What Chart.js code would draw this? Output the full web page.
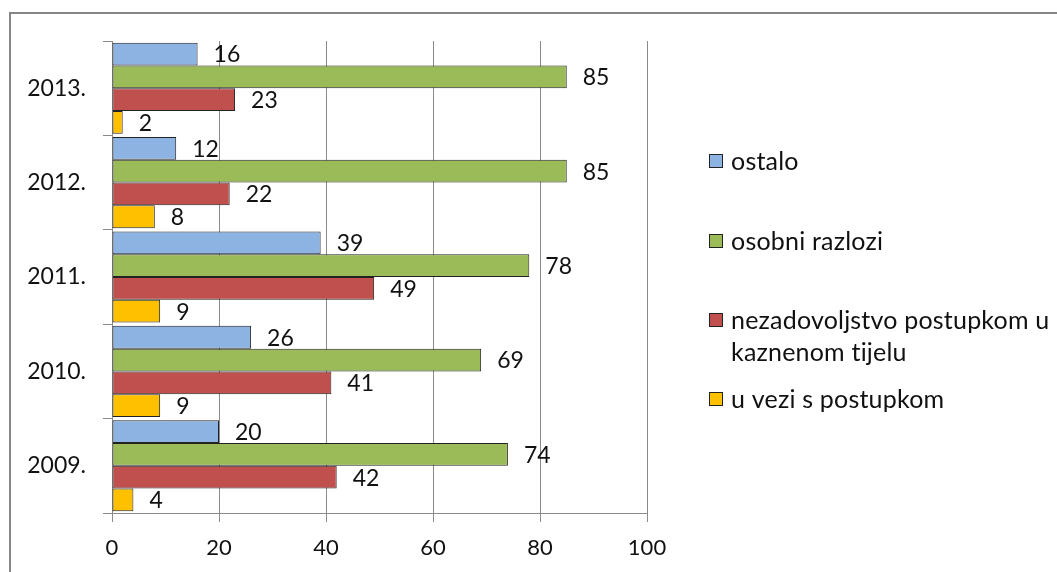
<!DOCTYPE html>
<html>
<head>
<meta charset="utf-8">
<script src="https://cdn.jsdelivr.net/npm/chart.js@4/dist/chart.umd.min.js"></script>
<style>
  html, body { margin: 0; padding: 0; background: #fff; }
  #wrap { width: 1057px; height: 572px; position: relative; }
</style>
</head>
<body>
<div id="wrap"><canvas id="c" width="1057" height="572"></canvas></div>
<script>
const years = ["2013.", "2012.", "2011.", "2010.", "2009."];
const seriesNames = ["ostalo", "osobni razlozi", "nezadovoljstvo postupkom u kaznenom tijelu", "u vezi s postupkom"];
const ostalo = [16, 12, 39, 26, 20];
const osobniRazlozi = [85, 85, 78, 69, 74];
const nezadovoljstvo = [23, 22, 49, 41, 42];
const uVezi = [2, 8, 9, 9, 4];
const xTicks = [0, 20, 40, 60, 80, 100];

const colors = ["#8DB3E2", "#9BBB59", "#C0504D", "#FFC000"];
const FONT = "Lato, 'Noto Sans', sans-serif";
const GRID = "#8a8a8a";
const TEXT = "#111";

const valueLabels = {
  id: "valueLabels",
  afterDatasetsDraw(chart) {
    const ctx = chart.ctx;
    ctx.save();
    ctx.font = "23px " + FONT;
    ctx.fillStyle = TEXT;
    ctx.textAlign = "left";
    ctx.textBaseline = "middle";
    chart.data.datasets.forEach((ds, i) => {
      const meta = chart.getDatasetMeta(i);
      meta.data.forEach((el, j) => {
        ctx.fillText(String(ds.data[j]), el.x + 16, el.y + 1);
      });
    });
    ctx.restore();
  }
};

const frameAndLegend = {
  id: "frameAndLegend",
  afterDraw(chart, args, opts) {
    const ctx = chart.ctx;
    ctx.save();
    // outer frame
    ctx.strokeStyle = "#868686";
    ctx.lineWidth = 2;
    ctx.strokeRect(10, 13, 1200, 700);
    // legend
    ctx.font = "25px " + FONT;
    if ("letterSpacing" in ctx) ctx.letterSpacing = "0.2px";
    ctx.textAlign = "left";
    ctx.textBaseline = "middle";
    const maxW = 322;
    chart.data.datasets.forEach((ds, i) => {
      const cy = opts.rows[i];
      ctx.fillStyle = ds.backgroundColor;
      ctx.fillRect(709.5, cy - 6.5, 13, 13);
      ctx.strokeStyle = "#222";
      ctx.lineWidth = 1;
      ctx.strokeRect(709.5, cy - 6.5, 13, 13);
      ctx.fillStyle = TEXT;
      const words = ds.label.split(" ");
      const lines = [];
      let cur = "";
      words.forEach(w => {
        const t = cur ? cur + " " + w : w;
        if (ctx.measureText(t).width > maxW && cur) { lines.push(cur); cur = w; }
        else cur = t;
      });
      if (cur) lines.push(cur);
      lines.forEach((ln, k) => ctx.fillText(ln, 731, cy + 1 + k * 32));
    });
    ctx.restore();
  }
};

const datasets = [ostalo, osobniRazlozi, nezadovoljstvo, uVezi].map((d, i) => ({
  label: seriesNames[i],
  data: d,
  backgroundColor: colors[i],
  borderColor: "#222",
  borderWidth: 1,
  borderSkipped: false,
  categoryPercentage: 0.965,
  barPercentage: 1.0
}));

new Chart(document.getElementById("c"), {
  type: "bar",
  data: { labels: years, datasets },
  options: {
    indexAxis: "y",
    responsive: false,
    animation: false,
    devicePixelRatio: 1,
    layout: { padding: { left: 0, top: 41, right: 410, bottom: 0 } },
    plugins: {
      legend: { display: false },
      tooltip: { enabled: false },
      frameAndLegend: { rows: [161, 241, 320, 399] }
    },
    scales: {
      x: {
        min: 0, max: 100,
        afterFit: s => { s.height = 59; },
        afterBuildTicks: s => { s.ticks = xTicks.map(v => ({ value: v })); },
        ticks: { font: { family: FONT, size: 22 }, color: TEXT, padding: 13 },
        grid: { color: GRID, tickColor: GRID, tickLength: 9, lineWidth: 1 },
        border: { color: GRID, width: 1 }
      },
      y: {
        offset: true,
        afterFit: s => { s.width = 112; },
        ticks: { font: { family: FONT, size: 23 }, color: TEXT, padding: 17 },
        grid: { offset: true, drawOnChartArea: false, drawTicks: true, tickLength: 9, tickColor: GRID, color: GRID },
        border: { color: GRID, width: 1 }
      }
    }
  },
  plugins: [valueLabels, frameAndLegend]
});
</script>
</body>
</html>
